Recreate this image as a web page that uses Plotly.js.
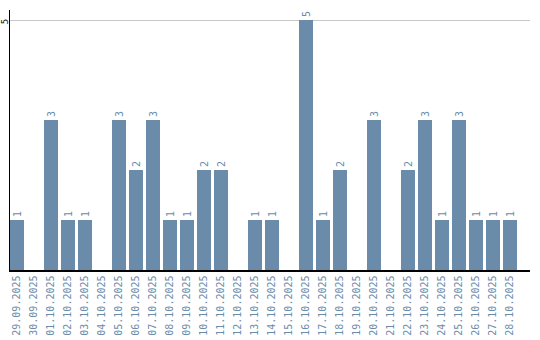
<!DOCTYPE html>
<html><head><meta charset="utf-8">
<script src="https://cdn.plot.ly/plotly-3.0.1.min.js"></script>
<style>html,body{margin:0;padding:0;background:#fff}</style>
</head><body>
<div id="chart" style="width:540px;height:340px"></div>
<script>
const dates = ["29.09.2025","30.09.2025","01.10.2025","02.10.2025","03.10.2025","04.10.2025","05.10.2025","06.10.2025","07.10.2025","08.10.2025","09.10.2025","10.10.2025","11.10.2025","12.10.2025","13.10.2025","14.10.2025","15.10.2025","16.10.2025","17.10.2025","18.10.2025","19.10.2025","20.10.2025","21.10.2025","22.10.2025","23.10.2025","24.10.2025","25.10.2025","26.10.2025","27.10.2025","28.10.2025"];
const counts = [1,0,3,1,1,0,3,2,3,1,1,2,2,0,1,1,0,5,1,2,0,3,0,2,3,1,3,1,1,1];
const yTicks = [5];
const barColor = "#6a8caa";
const labels = counts.map(v => v > 0 ? String(v) : "");
Plotly.newPlot("chart", [{
  type: "bar", x: dates, y: counts, text: labels, textposition: "outside",
  textangle: -90, cliponaxis: false,
  textfont: {family: "DejaVu Sans Mono", size: 10, color: barColor},
  marker: {color: barColor}, hoverinfo: "none"
}], {
  width: 540, height: 340,
  margin: {l: 10, r: 10, t: 10, b: 70},
  bargap: 0.176,
  paper_bgcolor: "#fff", plot_bgcolor: "#fff",
  showlegend: false,
  xaxis: {type: "category", range: [-0.412, 30.176], tickangle: -90, showline: true,
    linecolor: "#000", linewidth: 1.5, ticks: "", showgrid: false,
    tickfont: {family: "DejaVu Sans Mono", size: 10, color: "#6a8caa"}},
  yaxis: {range: [0, 5.2], tickvals: yTicks, ticktext: yTicks.map(String), tickangle: -90,
    showline: true, linecolor: "#000", linewidth: 1.5, ticks: "", zeroline: false,
    showgrid: true, gridcolor: "#c8c8c8", gridwidth: 1, automargin: false,
    ticklabelstandoff: -3, ticklabelshift: 3,
    tickfont: {family: "DejaVu Sans Mono", size: 9, color: "#000"}}
}, {displayModeBar: false, staticPlot: true});
</script>
</body></html>
